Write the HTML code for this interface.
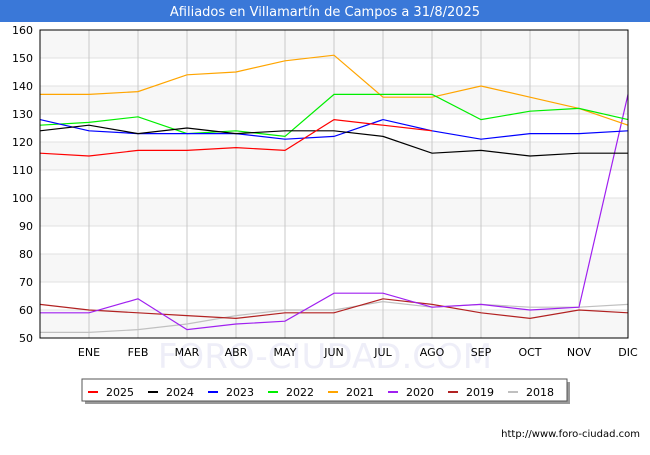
<!DOCTYPE html>
<html><head><meta charset="utf-8"><style>
body{margin:0;background:#fff;font-family:"Liberation Sans","DejaVu Sans",sans-serif}
</style></head><body>
<svg width="650" height="450" xmlns="http://www.w3.org/2000/svg" font-family="DejaVu Sans, Liberation Sans, sans-serif">
<rect width="650" height="450" fill="#fff"/>
<rect x="0" y="0" width="650" height="22" fill="#3a78d8"/>
<text x="325" y="16" fill="#fff" font-size="13" text-anchor="middle">Afiliados en Villamartín de Campos a 31/8/2025</text>
<g id="grid"></g>
<text x="325" y="368" fill="#eeeef8" font-size="34" text-anchor="middle">FORO-CIUDAD.COM</text>
<g id="series"></g>
<rect x="40" y="30" width="588" height="308" fill="none" stroke="#000" stroke-width="1"/>
<g id="axes"></g>
<rect x="85" y="382" width="485" height="22" fill="#999"/>
<rect x="82" y="379" width="485" height="22" fill="#fff" stroke="#555"/>
<g id="legend"></g>
<text x="640" y="437" font-size="10" text-anchor="end" fill="#000">http://www.foro-ciudad.com</text>
</svg>
<script>
const months=["","ENE","FEB","MAR","ABR","MAY","JUN","JUL","AGO","SEP","OCT","NOV","DIC"];
const yTicks=[50,60,70,80,90,100,110,120,130,140,150,160];
const years=["2025","2024","2023","2022","2021","2020","2019","2018"];
const colors=["#ff0000","#000000","#0000ff","#00ee00","#ffa500","#a020f0","#b22222","#c0c0c0"];
const s2025=[116,115,117,117,118,117,128,126,124];
const s2024=[124,126,123,125,123,124,124,122,116,117,115,116,116];
const s2023=[128,124,123,123,123,121,122,128,124,121,123,123,124];
const s2022=[126,127,129,123,124,122,137,137,137,128,131,132,128];
const s2021=[137,137,138,144,145,149,151,136,136,140,136,132,126];
const s2020=[59,59,64,53,55,56,66,66,61,62,60,61,137];
const s2019=[62,60,59,58,57,59,59,64,62,59,57,60,59];
const s2018=[52,52,53,55,58,60,60,63,61,62,61,61,62];
const seriesList=[s2025,s2024,s2023,s2022,s2021,s2020,s2019,s2018];
const NS="http://www.w3.org/2000/svg";
const X0=40,X1=628,Y0=338,Y1=30,VMIN=50,VMAX=160;
const xs=i=>X0+i*(X1-X0)/(months.length-1);
const ys=v=>Y0-(v-VMIN)*(Y0-Y1)/(VMAX-VMIN);
function mk(t,a,p){const e=document.createElementNS(NS,t);for(const k in a)e.setAttribute(k,a[k]);p.appendChild(e);return e;}
const grid=document.getElementById('grid'),axes=document.getElementById('axes'),ser=document.getElementById('series'),leg=document.getElementById('legend');
for(let i=0;i<yTicks.length-1;i++){
 if(i%2==0){const b=mk('rect',{x:X0,y:ys(yTicks[i+1]),width:X1-X0,height:ys(yTicks[i])-ys(yTicks[i+1]),fill:'#f7f7f7'},grid);
 
 }
}
yTicks.forEach(v=>{
 const l=mk('line',{x1:X0,x2:X1,y1:ys(v),y2:ys(v),stroke:'#e0e0e0'},grid);
 
 
 const t=mk('text',{x:X0-7,y:ys(v)+4,'font-size':11,'text-anchor':'end',fill:'#000'},axes);
 
 
 t.textContent=v;
});
months.forEach((m,i)=>{
 if(i>0){const l=mk('line',{x1:xs(i),x2:xs(i),y1:Y1,y2:Y0,stroke:'#c8c8c8'},grid);
 
 }
 const t=mk('text',{x:xs(i),y:356,'font-size':11,'text-anchor':'middle',fill:'#000'},axes);
 
 
 t.textContent=m;
});
for(let k=seriesList.length-1;k>=0;k--){
 const d=seriesList[k].map((v,i)=>xs(i)+','+ys(v)).join(' ');
 const p=mk('polyline',{points:d,fill:'none',stroke:colors[k],'stroke-width':1.2},ser);
 
 
}
years.forEach((y,k)=>{
 const x=88+k*60;
 const g=mk('g',{},leg);
 
 
 mk('line',{x1:x,x2:x+10,y1:392,y2:392,stroke:colors[k],'stroke-width':2},g);
 const t=mk('text',{x:x+18,y:396,'font-size':11,fill:'#000'},g);
 t.textContent=y;
});
</script>
</body></html>
